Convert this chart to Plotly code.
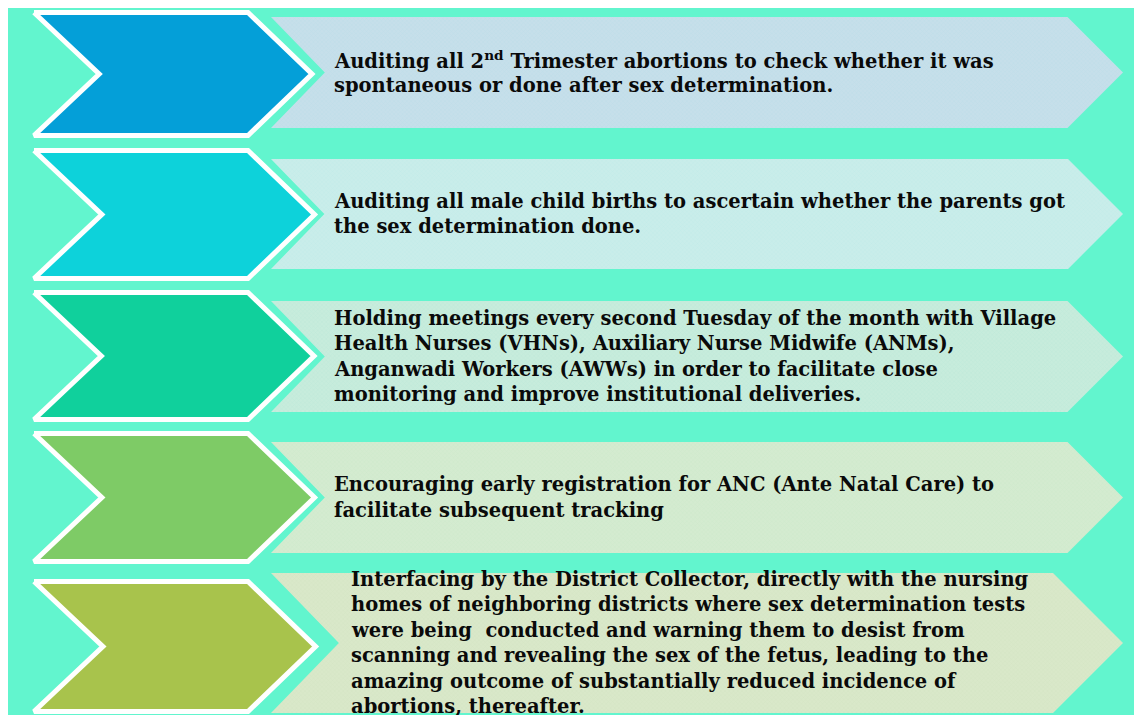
import plotly.graph_objects as go

# ---- data ----
step_lines = [
    ["Auditing all 2<sup>nd</sup> Trimester abortions to check whether it was",
     "spontaneous or done after sex determination."],
    ["Auditing all male child births to ascertain whether the parents got",
     "the sex determination done."],
    ["Holding meetings every second Tuesday of the month with Village",
     "Health Nurses (VHNs), Auxiliary Nurse Midwife (ANMs),",
     "Anganwadi Workers (AWWs) in order to facilitate close",
     "monitoring and improve institutional deliveries."],
    ["Encouraging early registration for ANC (Ante Natal Care) to",
     "facilitate subsequent tracking"],
    ["Interfacing by the District Collector, directly with the nursing",
     "homes of neighboring districts where sex determination tests",
     "were being  conducted and warning them to desist from",
     "scanning and revealing the sex of the fetus, leading to the",
     "amazing outcome of substantially reduced incidence of",
     "abortions, thereafter."],
]
chevron_colors = ["#049FD8", "#0DD2DA", "#10D09C", "#7ECB66", "#A8C34C"]
box_colors = ["#C6DFEA", "#C9EDEA", "#C7ECDC", "#D4EBD0", "#D9E8C9"]
box_dots = ["#B3D9E6", "#B5E8E6", "#B3E6D5", "#C4E6C4", "#CBE2BB"]

# ---- layout geometry (page pixels; page body has an 8px margin) ----
W, H = 1142, 715
OFF = 8
BG = "#62F5CE"
chev_top = [10, 148, 290, 431, 579]
chev_bot = [138, 281, 422, 564, 714]
box_top = [17, 159, 301, 442, 573]
box_bot = [128, 269, 412, 553, 713]
text_x = [332, 332, 332, 332, 349]
LINE_H = 25.4

fig = go.Figure()

for i, lines in enumerate(step_lines):
    # chevron (outer white stroke)
    t, b = chev_top[i] + 2.5, chev_bot[i] - 2.5
    m = (chev_top[i] + chev_bot[i]) / 2
    hh = (b - t) / 2
    xl, xr = 34, 248
    xs = [xl, xr, xr + hh * 1.04, xr, xl, xl + hh * 1.06, xl]
    ys = [t, t, m, b, b, m, t]
    fig.add_trace(go.Scatter(x=xs, y=ys, mode="lines", fill="toself",
                             fillcolor=chevron_colors[i],
                             line=dict(color="white", width=5),
                             hoverinfo="skip", showlegend=False))
    # text box (arrow)
    bt, bb = box_top[i], box_bot[i]
    bm = (bt + bb) / 2
    bh = (bb - bt) / 2
    lx = 271
    rx = 1123 - bh
    bx = [lx, rx, 1123, rx, lx, lx + bh * 0.97, lx]
    by = [bt, bt, bm, bb, bb, bm, bt]
    fig.add_trace(go.Scatter(x=bx, y=by, mode="lines", fill="toself",
                             fillcolor=box_colors[i],
                             fillpattern=dict(shape="x", size=3, solidity=0.25,
                                              fgcolor=box_dots[i],
                                              bgcolor=box_colors[i]),
                             line=dict(color=box_colors[i], width=0),
                             hoverinfo="skip", showlegend=False))
    # text lines
    n = len(lines)
    y0 = bm - (n - 1) * LINE_H / 2
    for k, ln in enumerate(lines):
        fig.add_annotation(x=text_x[i], y=y0 + k * LINE_H, text="<b>" + ln + "</b>",
                           xref="x", yref="y", showarrow=False,
                           xanchor="left", yanchor="middle",
                           font=dict(family="DejaVu Serif", size=19.5, color="#0A0A0A"))

fig.update_xaxes(range=[OFF, W + OFF], visible=False, fixedrange=True)
fig.update_yaxes(range=[H + OFF, OFF], visible=False, fixedrange=True)
fig.update_layout(width=W, height=H, margin=dict(l=0, r=0, t=0, b=0),
                  paper_bgcolor=BG, plot_bgcolor=BG,
                  showlegend=False)

fig.write_html("out.html")
